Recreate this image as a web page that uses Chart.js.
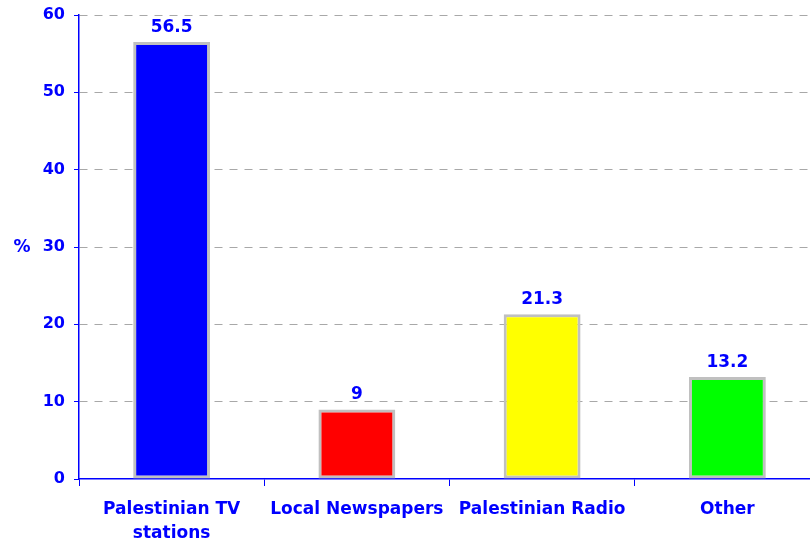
<!DOCTYPE html>
<html>
<head>
<meta charset="utf-8">
<script src="https://cdn.jsdelivr.net/npm/chart.js@4/dist/chart.umd.min.js"></script>
<style>
  html,body{margin:0;padding:0;background:#fff;overflow:hidden;}
  #wrap{width:820px;height:542px;}
</style>
</head>
<body>
<div id="wrap"><canvas id="c" width="820" height="542"></canvas></div>
<script>
// data
const categories = [['Palestinian TV','stations'], 'Local Newspapers', 'Palestinian Radio', 'Other'];
const values     = [56.5, 9, 21.3, 13.2];
const barColors  = ['#0000ff', '#ff0000', '#ffff00', '#00ff00'];
const yTicks     = [0, 10, 20, 30, 40, 50, 60];

const BLUE = '#0000ff';
const FONT = 'DejaVu Sans';

// value labels above bars + the "%" axis title
const valueLabels = {
  id: 'valueLabels',
  afterDatasetsDraw(chart) {
    const ctx = chart.ctx;
    const meta = chart.getDatasetMeta(0);
    ctx.save();
    ctx.fillStyle = BLUE;
    ctx.font = `bold 17px "${FONT}"`;
    ctx.textAlign = 'center';
    ctx.textBaseline = 'alphabetic';
    meta.data.forEach((bar, i) => {
      ctx.fillText(String(values[i]), bar.x, bar.y - 10);
    });
    // y title
    const ca = chart.chartArea;
    ctx.textBaseline = 'middle';
    ctx.fillText('%', 22, (ca.top + ca.bottom) / 2 + 1);
    ctx.restore();
  }
};

new Chart(document.getElementById('c'), {
  type: 'bar',
  data: {
    labels: categories,
    datasets: [{
      data: values,
      backgroundColor: barColors,
      borderColor: '#c0c0c0',
      borderWidth: 3,
      borderSkipped: false,
      barPercentage: 0.415,
      categoryPercentage: 1
    }]
  },
  options: {
    responsive: false,
    animation: false,
    devicePixelRatio: 1,
    layout: { padding: { top: 15, right: 0, bottom: 0, left: 0 } },
    plugins: { legend: { display: false }, tooltip: { enabled: false } },
    scales: {
      x: {
        afterFit: s => { s.height = 63; },
        grid: {
          offset: true, drawOnChartArea: false, drawTicks: true,
          tickLength: 7, tickColor: BLUE, tickWidth: 1
        },
        border: { color: BLUE, width: 1.5 },
        ticks: {
          color: BLUE, padding: 12,
          font: { family: FONT, size: 17, weight: 'bold', lineHeight: 1.4 },
          maxRotation: 0, autoSkip: false
        }
      },
      y: {
        min: 0, max: 60,
        afterFit: s => { s.width = 79; s.paddingTop = 0; s.paddingBottom = 0; },
        afterBuildTicks: s => { s.ticks = yTicks.map(v => ({ value: v })); },
        grid: {
          color: c => (c.tick && c.tick.value === 0) ? 'rgba(0,0,0,0)' : '#a8a8a8',
          lineWidth: 1,
          borderDash: [8, 7],
          tickLength: 5, tickColor: BLUE, tickWidth: 1, tickBorderDash: []
        },
        border: { color: BLUE, width: 1.5, dash: [8, 7] },
        ticks: {
          color: BLUE, padding: 9,
          font: { family: FONT, size: 16, weight: 'bold' }
        }
      }
    }
  },
  plugins: [valueLabels]
});
</script>
</body>
</html>
